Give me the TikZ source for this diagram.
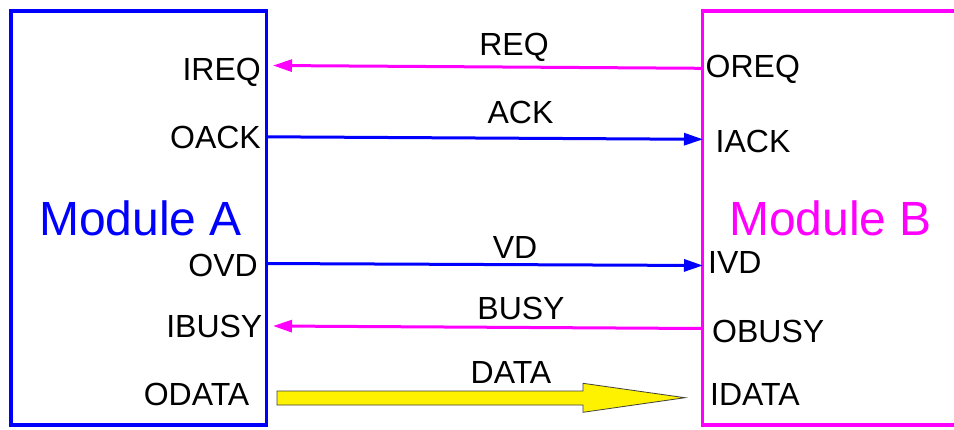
\documentclass[tikz,border=0pt]{standalone}
\usepackage{fontspec}
\setmainfont{Liberation Sans}
\usetikzlibrary{arrows.meta}
\definecolor{magentab}{RGB}{255,0,255}
\definecolor{blueA}{RGB}{0,0,255}

\begin{document}
\begin{tikzpicture}[x=1pt, y=-1pt]
\tikzset{modbox/.style={draw, line width=3.5pt, inner sep=0pt},
  pin/.style={inner sep=0pt, font=\fontsize{32}{36}\selectfont},
  bigname/.style={inner sep=0pt, font=\fontsize{48}{52}\selectfont},
  sigA/.style={line width=3pt, blueA, -{Triangle[length=19pt,width=12pt]}},
  sigB/.style={line width=3pt, magentab, -{Triangle[length=19pt,width=12pt]}}}
\useasboundingbox (0,0) rectangle (954,429);
\clip (0,0) rectangle (954,429);
% the two modules
\draw[modbox, blueA] (11,11) rectangle (266.5,425);
\draw[modbox, magentab] (702.5,11) rectangle (980,425);
\node[bigname, blueA, anchor=base west] (modA) at (39,235) {Module A};
\node[bigname, magentab, anchor=base west] (modB) at (729,235) {Module B};
% ports of module A
\node[pin, anchor=base east] (ireq) at (261,80) {IREQ};
\node[pin, anchor=base east] (oack) at (261,148.5) {OACK};
\node[pin, anchor=base east] (ovd) at (258,276.5) {OVD};
\node[pin, anchor=base east] (ibusy) at (262.5,337) {IBUSY};
\node[pin, anchor=base east] (odata) at (249.5,405) {ODATA};
% ports of module B
\node[pin, anchor=base west] (oreq) at (705.5,77) {OREQ};
\node[pin, anchor=base west] (iack) at (715.5,152.7) {IACK};
\node[pin, anchor=base west] (ivd) at (708,273.3) {IVD};
\node[pin, anchor=base west] (obusy) at (712,342) {OBUSY};
\node[pin, anchor=base west] (idata) at (710,405) {IDATA};
% pins on the box edges
\coordinate (a1) at (273,65.5);
\coordinate (a2) at (266.5,136.8);
\coordinate (a3) at (266.5,263.5);
\coordinate (a4) at (273,326);
\coordinate (b1) at (702.5,68.3);
\coordinate (b2) at (703,139.3);
\coordinate (b3) at (703,265.5);
\coordinate (b4) at (702.5,328.5);
% handshake signals
\draw[sigB] (b1) -- (a1);
\draw[sigA] (a2) -- (b2);
\draw[sigA] (a3) -- (b3);
\draw[sigB] (b4) -- (a4);
\node[pin, anchor=base] (req) at (514,55) {REQ};
\node[pin, anchor=base] (ack) at (520.5,123.3) {ACK};
\node[pin, anchor=base] (vd) at (515,258.3) {VD};
\node[pin, anchor=base] (busy) at (521,319.3) {BUSY};
% data bus
\draw[draw=black!75, fill=yellow, line width=0.8pt] (277,391) -- (583,391) -- (583,383.3)
  -- (685,397.7) -- (583,412.3) -- (583,405) -- (277,405) -- cycle;
\node[pin, anchor=base] (data) at (511,383) {DATA};
\end{tikzpicture}
\end{document}
